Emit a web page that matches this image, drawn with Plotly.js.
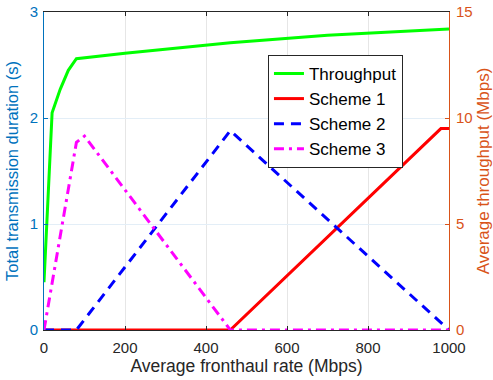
<!DOCTYPE html>
<html><head><meta charset="utf-8">
<script src="https://cdn.plot.ly/plotly-3.0.1.min.js"></script>
<style>html,body{margin:0;padding:0;background:#fff}#chart{width:493px;height:380px}</style>
</head><body><div id="chart"></div>
<script>
// Throughput (right axis, Mbps)
const thrX = [0, 10, 20, 40, 60, 80, 200, 460, 700, 1000];
const thrY = [2.25, 6.2, 10.25, 11.35, 12.25, 12.8, 13.05, 13.55, 13.9, 14.2];
// Scheme 1 (left axis, s)
const s1X = [0, 460, 980, 1000];
const s1Y = [0, 0, 1.9, 1.9];
// Scheme 2
const s2X = [0, 80, 460, 1000];
const s2Y = [0, 0, 1.88, 0];
// Scheme 3
const s3X = [0, 80, 100, 460, 1000];
const s3Y = [0, 1.77, 1.83, 0, 0];

const xTicks = [0, 200, 400, 600, 800, 1000];
const yTicks = [0, 1, 2, 3];
const y2Ticks = [0, 5, 10, 15];

const font = 'Liberation Sans, Arial, sans-serif';
const traces = [
  {x: thrX, y: thrY, name: 'Throughput', yaxis: 'y2', mode: 'lines', line: {color: '#00FF00', width: 3}},
  {x: s1X, y: s1Y, name: 'Scheme 1', mode: 'lines', line: {color: '#FF0000', width: 3}},
  {x: s2X, y: s2Y, name: 'Scheme 2', mode: 'lines', line: {color: '#0000FF', width: 3, dash: '10px,7px'}},
  {x: s3X, y: s3Y, name: 'Scheme 3', mode: 'lines', line: {color: '#FF00FF', width: 3, dash: '10px,5px,3px,5px'}}
];
const layout = {
  width: 493, height: 380,
  margin: {l: 44, r: 44, t: 12, b: 50},
  paper_bgcolor: '#fff', plot_bgcolor: '#fff',
  font: {family: font, size: 14, color: '#262626'},
  showlegend: true,
  legend: {x: 0.553, y: 0.865, xanchor: 'left', yanchor: 'top', bgcolor: '#fff',
           bordercolor: '#262626', borderwidth: 1, font: {size: 17, color: '#000'}},
  xaxis: {range: [0, 1000], tickvals: xTicks, ticks: 'inside', ticklen: 4, tickcolor: '#262626',
          showline: true, linecolor: '#262626', linewidth: 1, mirror: 'ticks',
          showgrid: true, gridcolor: '#e6e6e6', zeroline: false, ticklabelstandoff: 4,
          tickfont: {size: 15, color: '#262626'},
          title: {text: 'Average fronthaul rate (Mbps)', font: {size: 17.5, color: '#262626'}, standoff: 3}},
  yaxis: {range: [0, 3], tickvals: yTicks, ticks: 'inside', ticklen: 4, tickcolor: '#0072BD',
          showline: true, linecolor: '#0072BD', linewidth: 1, showgrid: true, gridcolor: '#e3eef7',
          zeroline: false, ticklabelstandoff: 2, tickfont: {size: 15, color: '#0072BD'},
          title: {text: 'Total transmission duration (s)', font: {size: 16.5, color: '#0072BD'}, standoff: 6}},
  yaxis2: {range: [0, 15], tickvals: y2Ticks, overlaying: 'y', side: 'right', ticks: 'inside', ticklen: 4,
          tickcolor: '#D95319', showline: true, linecolor: '#D95319', linewidth: 1, showgrid: false,
          zeroline: false, ticklabelstandoff: 3, tickfont: {size: 15, color: '#D95319'},
          title: {text: 'Average throughput (Mbps)', font: {size: 17, color: '#D95319'}, standoff: 6}}
};
Plotly.newPlot('chart', traces, layout, {displayModeBar: false, staticPlot: true});
</script></body></html>
